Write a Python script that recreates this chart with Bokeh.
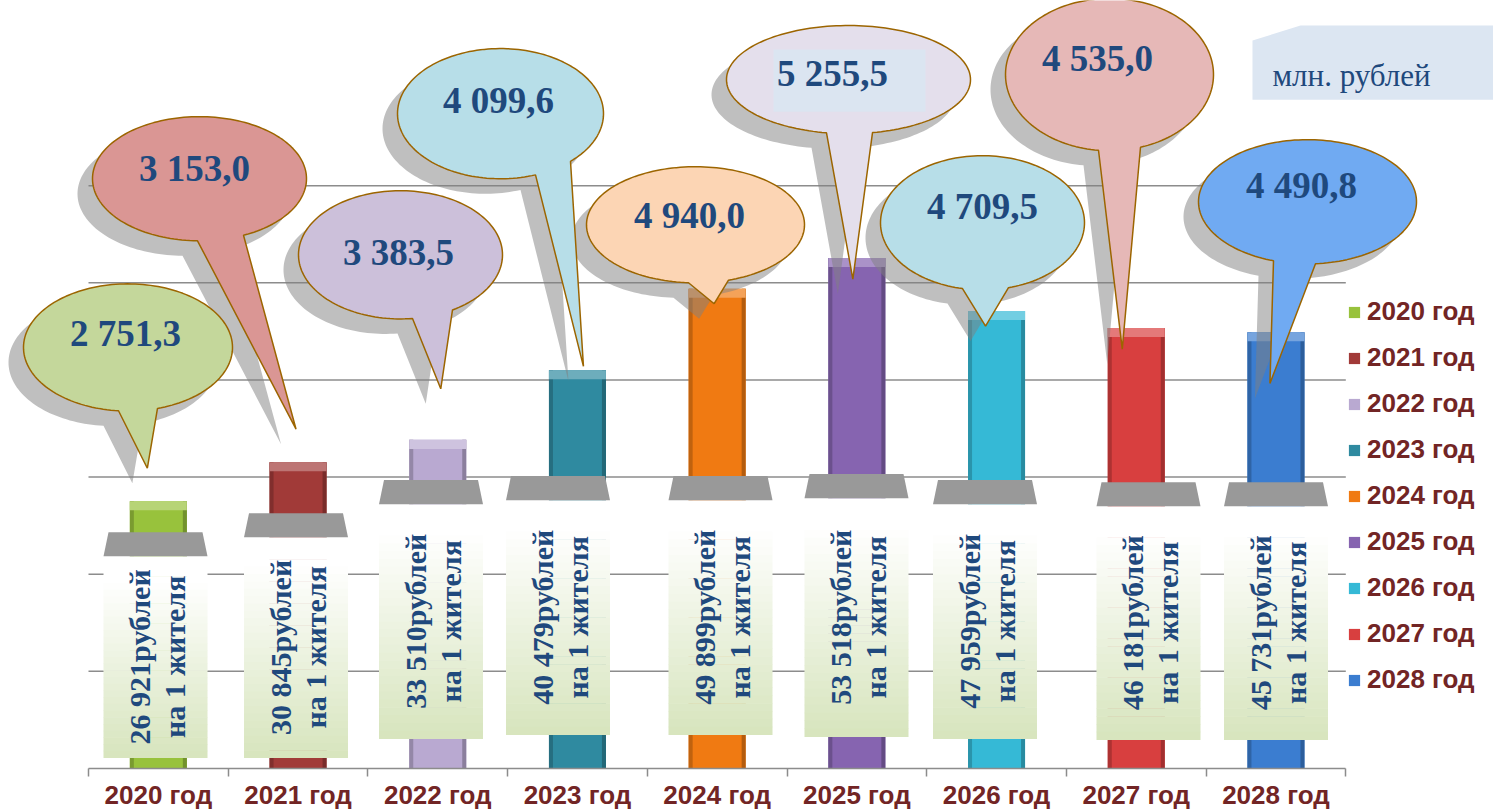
import numpy as np
from bokeh.plotting import figure
from bokeh.models import Range1d, LinearAxis, FixedTicker, ColumnDataSource
from bokeh.core.properties import value
from bokeh.embed import file_html
from bokeh.resources import INLINE

# ---------------- DATA ----------------
years = ["2020 год", "2021 год", "2022 год", "2023 год", "2024 год",
         "2025 год", "2026 год", "2027 год", "2028 год"]
totals = [2751.3, 3153.0, 3383.5, 4099.6, 4940.0, 5255.5, 4709.5, 4535.0, 4490.8]
per_capita = [26921, 30845, 33510, 40479, 49899, 53518, 47959, 46181, 45731]
grid_values = [1000, 2000, 3000, 4000, 5000, 6000]
unit_text = "млн. рублей"
per_capita_unit = "рублей"
per_capita_note = "на 1 жителя"

# ---------------- STYLE ----------------
bar_colors = ["#98c23c", "#a13a38", "#b9a9d1", "#2f8aa0", "#f07a12",
              "#8664b0", "#35b9d6", "#d83f3f", "#3b7dd0"]
bubble_colors = ["#c4d79b", "#da9694", "#ccc0da", "#b7dee8", "#fcd5b4",
                 "#e4dfec", "#b7dee8", "#e6b8b7", "#70aaf2"]
OUTLINE = "#9c6500"
TEXT_BLUE = "#1f497d"
LABEL_RED = "#722525"
GRID_GREY = "#8c8c8c"
SERIF = "Liberation Serif"
SANS = "Liberation Sans"


def hex2rgb(h):
    h = h.lstrip("#")
    return [int(h[k:k + 2], 16) for k in (0, 2, 4)]


def mix(c1, c2, t):
    a, b = hex2rgb(c1), hex2rgb(c2)
    return "#%02x%02x%02x" % tuple(int(round(a[k] + (b[k] - a[k]) * t)) for k in range(3))


# ---------------- LAYOUT (reference screen pixels) ----------------
W, H = 1493, 812
FRAME_LEFT, FRAME_TOP = 0, 0
FRAME_RIGHT = FRAME_LEFT + W
AXIS_Y = 767
CAT_X0 = 88
CAT_PITCH = 139.7
PX_PER_UNIT = 0.097
BAR_W = 57 / CAT_PITCH


def to_x(sx):
    return -0.5 + (sx - CAT_X0) / CAT_PITCH


def to_y(sy):
    return (AXIS_Y - sy) / PX_PER_UNIT


def bar_cx(i):
    return CAT_X0 + (i + 0.5) * CAT_PITCH


def bar_top(i):
    return AXIS_Y - totals[i] * PX_PER_UNIT


# bubbles: ellipse centre, semi-axes, tail base x's, tip offset from bar top, text centre
bub_center = [(127.5, 346.5), (199, 178), (400, 254), (500, 113), (695, 224),
              (848, 79), (982, 222), (1109, 74), (1307, 201)]
bub_axes = [(104.5, 63.5), (107, 62), (102, 64), (103, 65), (109, 58),
            (122, 54), (102, 67), (104, 76), (109, 62)]
bub_base = [(118, 157), (197, 243), (412, 452), (535, 570), (688, 728),
            (826, 872), (962, 1008), (1098, 1140), (1273, 1315)]
tip_off = [(-11, -33), (-2, -33), (3, -51), (6, -4), (-3, 15),
           (-4, 21), (-11, 15), (-14, 21), (-6, 51)]
bub_text = [(125, 333), (194, 168), (398, 252), (498, 100), (689, 215),
            (832, 73), (982, 206), (1097, 58), (1301, 185)]
SHADOW = (-15, 15)
highlight_rect = {5: (773, 925, 49, 111)}

# per-capita label boxes
box_cx = [155, 295.5, 430.5, 557.5, 720, 856, 984.5, 1148, 1275.5]
trap_top = [531, 512, 479, 475, 475, 473, 479, 481, 481]
box_bottom = [756, 756, 737, 733, 733, 735, 737, 738, 738]
TRAP_H = 24
TRAP_TOP_W = 94
BOX_W = 104
LINE1_DX = -16
LINE2_DX = 19

# ---------------- FIGURE ----------------
p = figure(width=W, height=H,
           x_range=Range1d(to_x(FRAME_LEFT), to_x(FRAME_RIGHT)),
           y_range=Range1d(0, to_y(FRAME_TOP)),
           x_axis_type=None, y_axis_type=None,
           toolbar_location=None, output_backend="svg",
           min_border=0, min_border_left=0, min_border_right=0, min_border_top=0,
           outline_line_color=None, background_fill_color="white",
           border_fill_color="white")

n = len(years)
xs_idx = list(range(n))

# x axis
xa = LinearAxis(ticker=FixedTicker(ticks=xs_idx, minor_ticks=[i - 0.5 for i in range(n + 1)]),
                major_label_overrides={i: years[i] for i in xs_idx})
xa.bounds = (-0.5, n - 0.5)
xa.axis_line_color = GRID_GREY
xa.axis_line_width = 1.5
xa.major_tick_out = 0
xa.major_tick_in = 0
xa.minor_tick_out = 8
xa.minor_tick_in = 0
xa.minor_tick_line_color = GRID_GREY
xa.minor_tick_line_width = 1.5
xa.major_label_standoff = 3
xa.major_label_text_font = SANS
xa.major_label_text_font_style = "bold"
xa.major_label_text_font_size = "26px"
xa.major_label_text_color = LABEL_RED
p.add_layout(xa, "below")

# gridlines
p.segment(x0=[-0.5] * len(grid_values), x1=[n - 0.5] * len(grid_values),
          y0=grid_values, y1=grid_values, line_color=GRID_GREY, line_width=1.5)

# bars
src = ColumnDataSource(dict(x=xs_idx, top=totals, year=years, color=bar_colors))
p.vbar(x="x", top="top", bottom=0, width=BAR_W, fill_color="color",
       line_color=None, source=src, legend_field="year")
# bevel decoration
edge = 4 / CAT_PITCH
topband = 9 / PX_PER_UNIT
p.quad(left=[i - BAR_W / 2 for i in xs_idx], right=[i - BAR_W / 2 + edge for i in xs_idx],
       top=totals, bottom=[0] * n, fill_color=[mix(c, "#000000", 0.2) for c in bar_colors],
       line_color=None)
p.quad(left=[i + BAR_W / 2 - edge for i in xs_idx], right=[i + BAR_W / 2 for i in xs_idx],
       top=totals, bottom=[0] * n, fill_color=[mix(c, "#000000", 0.25) for c in bar_colors],
       line_color=None)
p.quad(left=[i - BAR_W / 2 for i in xs_idx], right=[i + BAR_W / 2 for i in xs_idx],
       top=totals, bottom=[t - topband for t in totals],
       fill_color=[mix(c, "#ffffff", 0.3) for c in bar_colors], line_color=None)

# per-capita boxes (gradient strips), trapezoids, text
NS = 30
ql, qr, qt, qb, qc = [], [], [], [], []
tx, ty = [], []
for i in xs_idx:
    top_s = trap_top[i] + TRAP_H
    bot_s = box_bottom[i]
    for k in range(NS):
        s0 = top_s + (bot_s - top_s) * k / NS
        s1 = top_s + (bot_s - top_s) * (k + 1) / NS
        t = max(0.0, ((k + 0.5) / NS - 0.12) / 0.88)
        ql.append(to_x(box_cx[i] - BOX_W / 2))
        qr.append(to_x(box_cx[i] + BOX_W / 2))
        qt.append(to_y(s0))
        qb.append(to_y(s1 + 0.5))
        qc.append(mix("#ffffff", "#d7e4bd", t))
    tx.append([to_x(box_cx[i] - TRAP_TOP_W / 2), to_x(box_cx[i] + TRAP_TOP_W / 2),
               to_x(box_cx[i] + BOX_W / 2), to_x(box_cx[i] - BOX_W / 2)])
    ty.append([to_y(trap_top[i]), to_y(trap_top[i]), to_y(top_s), to_y(top_s)])
p.quad(left=ql, right=qr, top=qt, bottom=qb, fill_color=qc, line_color=None)
p.patches(xs=tx, ys=ty, fill_color="#999999", line_color=None)

line1 = [f"{v:,}".replace(",", " ") + per_capita_unit for v in per_capita]
line2 = [per_capita_note] * n
mid_y = [to_y((trap_top[i] + TRAP_H + box_bottom[i]) / 2) for i in xs_idx]
p.text(x=[to_x(box_cx[i] + LINE1_DX) for i in xs_idx], y=mid_y, text=line1, angle=np.pi / 2,
       text_align="center", text_baseline="alphabetic", text_font=value(SERIF),
       text_font_style="bold", text_font_size="30px", text_color=TEXT_BLUE)
p.text(x=[to_x(box_cx[i] + LINE2_DX) for i in xs_idx], y=mid_y, text=line2, angle=np.pi / 2,
       text_align="center", text_baseline="alphabetic", text_font=value(SERIF),
       text_font_style="bold", text_font_size="30px", text_color=TEXT_BLUE)


# bubbles
def bubble(i, off=(0, 0)):
    cx, cy = bub_center[i]
    a, b = bub_axes[i]
    xl, xr = bub_base[i]
    tl = np.arccos(np.clip((xl - cx) / a, -1, 1))
    tr = np.arccos(np.clip((xr - cx) / a, -1, 1))
    ts = np.linspace(tl, tr + 2 * np.pi, 160)
    sx = list(cx + a * np.cos(ts))
    sy = list(cy + b * np.sin(ts))
    sx.append(bar_cx(i) + tip_off[i][0])
    sy.append(bar_top(i) + tip_off[i][1])
    return ([to_x(v + off[0]) for v in sx], [to_y(v + off[1]) for v in sy])


sh = [bubble(i, SHADOW) for i in xs_idx]
bb = [bubble(i) for i in xs_idx]
p.patches(xs=[s[0] for s in sh], ys=[s[1] for s in sh], fill_color="#7f7f7f",
          fill_alpha=0.5, line_color=None)
p.patches(xs=[s[0] for s in bb], ys=[s[1] for s in bb], fill_color=bubble_colors,
          line_color=OUTLINE, line_width=1.5)
for i, (l, r, t, b) in highlight_rect.items():
    p.quad(left=[to_x(l)], right=[to_x(r)], top=[to_y(t)], bottom=[to_y(b)],
           fill_color="#dbe5f1", line_color=None)

val_txt = [f"{v:,.1f}".replace(",", " ").replace(".", ",") for v in totals]
p.text(x=[to_x(c[0]) for c in bub_text], y=[to_y(c[1]) for c in bub_text], text=val_txt,
       text_align="center", text_baseline="middle", text_font=value(SERIF),
       text_font_style="bold", text_font_size="37px", text_color=TEXT_BLUE)

# unit box
p.patch(x=[to_x(1252), to_x(1300), to_x(1500), to_x(1500), to_x(1252)],
        y=[to_y(40), to_y(25), to_y(25), to_y(99), to_y(99)],
        fill_color="#dce6f2", line_color=None)
p.text(x=[to_x(1272)], y=[to_y(75)], text=[unit_text], text_align="left",
       text_baseline="alphabetic", text_font=value(SERIF), text_font_size="31px",
       text_color=TEXT_BLUE)

# legend
lg = p.legend[0]
lg.location = (1347, 73)
lg.glyph_width = 14
lg.glyph_height = 14
lg.label_height = 30
lg.spacing = 15
lg.label_standoff = 6
lg.padding = 0
lg.margin = 0
lg.border_line_color = None
lg.background_fill_alpha = 0
lg.label_text_font = SANS
lg.label_text_font_style = "bold"
lg.label_text_font_size = "26px"
lg.label_text_color = LABEL_RED

open("out.html", "w").write(file_html(p, INLINE))
